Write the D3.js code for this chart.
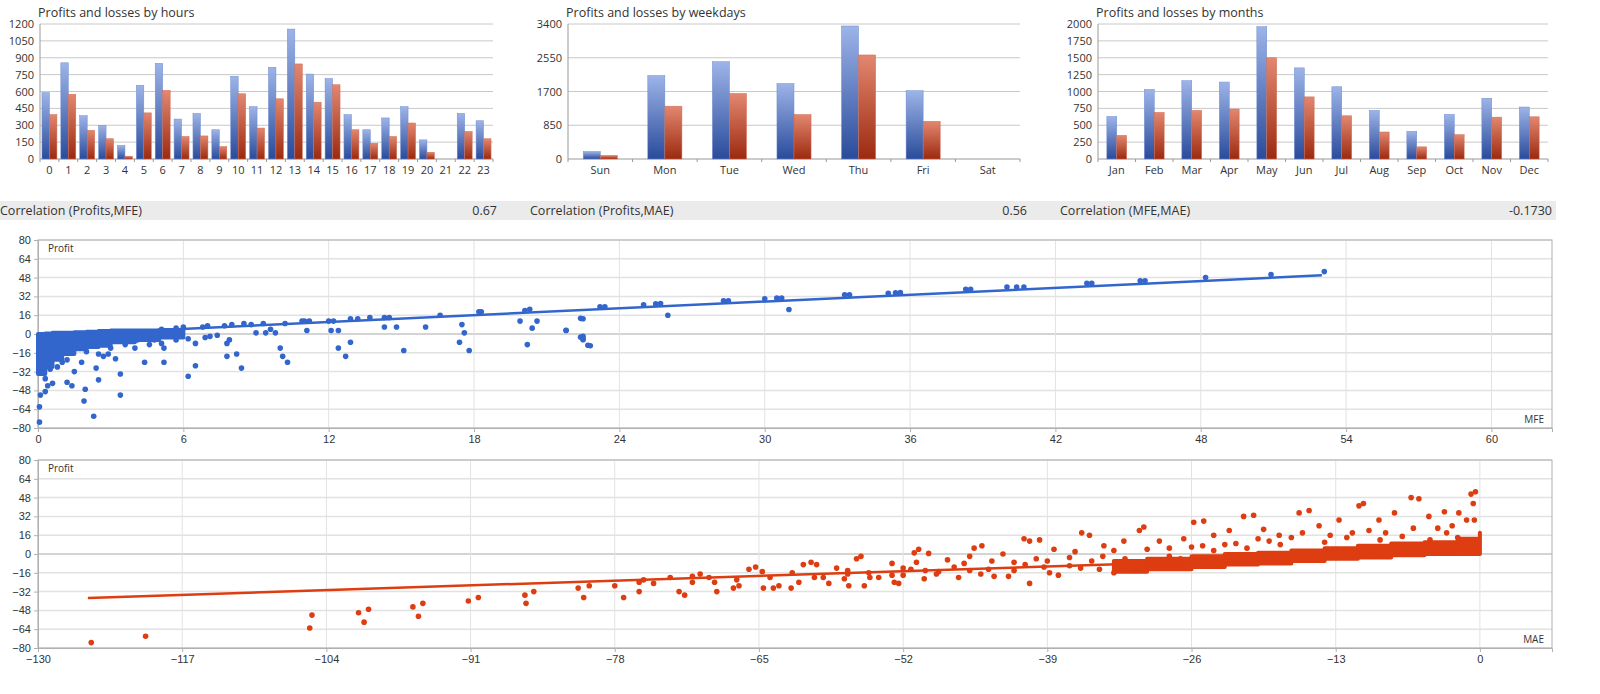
<!DOCTYPE html>
<html><head><meta charset="utf-8">
<script src="https://cdn.jsdelivr.net/npm/d3@7"></script>
<style>
html,body{margin:0;overflow:hidden;background:#fff;font-family:"Open Sans","DejaVu Sans",sans-serif;}
svg{display:block;}
text{fill:#333;}
.tick text{font-size:11px;fill:#333;}
</style></head><body>
<svg id="chart" width="1600" height="694"></svg>
<script>
// bar charts
var hours = d3.range(24).map(String);
var hourProfit = [590,855,385,300,120,655,850,355,405,260,735,465,815,1155,755,715,395,260,365,465,170,0,405,340];
var hourLoss   = [395,575,255,180,25,410,610,200,205,110,580,275,535,845,505,660,260,140,200,320,60,0,245,180];
var days = ["Sun","Mon","Tue","Wed","Thu","Fri","Sat"];
var dayProfit = [190,2100,2450,1900,3350,1720,0];
var dayLoss   = [90,1330,1650,1120,2620,950,0];
var months = ["Jan","Feb","Mar","Apr","May","Jun","Jul","Aug","Sep","Oct","Nov","Dec"];
var monthProfit = [630,1030,1160,1140,1960,1350,1070,720,410,660,900,770];
var monthLoss   = [350,690,720,740,1500,920,640,400,180,360,620,625];

var correlations = [["Correlation (Profits,MFE)","0.67"],["Correlation (Profits,MAE)","0.56"],["Correlation (MFE,MAE)","-0.1730"]];

// scatter MFE vs profit
var mfePoints = [[0.06,-75],[0.06,-62],[0.1,-52],[0.3,-49],[0.6,-42],[1.2,-41],[1.4,-44],[1.9,-57],[1.95,-47],[2.3,-70],[2.5,-39],[3.4,-52],[3.4,-34],[2.4,-29],[1.5,-32],[1.8,-24],[2.5,-17],[2.7,-19],[2.9,-17],[3.2,-21],[4.4,-24],[5.2,-24],[6.2,-36],[6.5,-27],[7.8,-19],[8.4,-29],[8.2,-17],[10,-12],[10.1,-19],[10.3,-24],[12.4,-12],[12.7,-19],[12.9,-7],[15.1,-14],[14.3,6],[14.8,6],[16,6],[17.4,-7],[17.8,-14],[17.5,8],[17.6,1],[20.2,-9],[20.4,5],[19.9,11],[20.6,11],[21.8,3],[22.5,13],[22.5,-2],[22.5,-4],[22.8,-10],[16.6,16],[18.2,19],[18.3,19],[20.1,20],[20.3,21],[14.3,14],[14.5,14],[13.7,14],[12.9,13],[13.2,13],[12,11],[12.2,11],[10.9,11],[11.2,11],[10.2,9],[9.3,9],[8.5,9],[8.8,8],[7.7,7],[8,8],[6.8,6],[7,7],[5.7,5],[6,6],[5.1,4],[9,1],[9.4,1],[9.8,1],[11,11],[11.1,3],[12.1,3],[12.4,3],[9.6,4],[7.9,-5],[7.4,-1],[6.9,-3],[6.2,-4],[5.7,-5],[5.1,-8],[4.6,-9],[4,-12],[4.1,-5],[3.6,-9],[3.5,-5],[4.8,-5],[5.2,-12],[7.8,-8],[0.3,-38],[0.2,-33],[0.5,-30],[0.8,-28],[1,-24],[1.2,-22],[0.4,-44],[1.1,-15],[2,-15],[3,-12],[6.5,-8],[7.1,-2],[21.8,3.2],[22.4,13.3],[22.4,-2.7],[22.5,-4.8],[22.7,-9.6],[23.2,23.2],[23.4,23.2],[25,24.8],[25.7,25.9],[25.5,25.6],[26,16],[28.3,28.3],[28.5,28.3],[30,29.9],[30.7,30.7],[30.5,30.5],[31,20.8],[33.3,33.3],[33.5,33.3],[35.1,34.7],[35.6,35.2],[35.4,35],[38.3,38.1],[38.5,38.1],[40,40],[40.7,40],[40.4,40],[43.3,43.2],[43.5,43.2],[45.5,45.3],[45.7,45.3],[48.2,48],[50.9,50.7],[53.1,53.1]];
// dense cluster near zero: [mfe, lowest profit, highest profit]
var mfeBand = [[0,-34,0],[0.3,-28,0.5],[0.6,-22,1],[1,-17,1],[1.5,-13,1.5],[2,-11,2],[2.5,-10,2.5],[3,-7,3],[4,-5,3],[5,-3,3.5],[6,-2,4]];
var mfeTrend = [[0,-1.4],[53,49.9]];

// scatter MAE vs profit
var maePoints = [[-125.2,-75.4],[-120.3,-70],[-105.5,-63],[-105.3,-52],[-101.1,-50],[-100.6,-58],[-100.2,-47],[-96.2,-45],[-95.7,-53],[-95.3,-42],[-91.2,-40],[-90.3,-37],[-86.1,-35],[-86,-42],[-85.3,-32],[-81.3,-29],[-80.8,-37],[-80.3,-27],[-77.2,-37],[-75.8,-32],[-75.8,-24],[-75.4,-22],[-74.5,-25],[-72.2,-32],[-71.7,-35],[-71,-19],[-70.3,-17],[-69.5,-20],[-68.8,-32],[-67.3,-29],[-66.8,-27],[-65.9,-13],[-65.3,-11],[-64.7,-15],[-64.6,-29],[-63.7,-29],[-63.2,-27],[-62.1,-29],[-61.4,-24],[-61,-9],[-60.3,-7],[-59.8,-9],[-59.2,-20],[-58.7,-25],[-57.3,-21],[-56.9,-27],[-56.2,-4],[-55.8,-2],[-55.5,-27],[-55.1,-16],[-54.2,-20],[-52.8,-24],[-52.4,-25],[-52,-12],[-51.3,-13],[-51,1],[-50.6,4],[-49.7,0.5],[-50.8,-7],[-50.1,-21],[-48.8,-15],[-47.4,-11],[-46.5,-8],[-46,-2],[-45.6,5],[-44.9,7],[-44.3,-13],[-43.8,-19],[-42.5,-19],[-42,-7],[-41.1,13],[-40.6,11],[-39.7,12],[-40.6,-25],[-39.3,-11],[-38.8,-16],[-38.4,4],[-37,-3],[-35.9,18],[-35.2,16],[-34.3,-13],[-33.9,7],[-33,3],[-32.1,11],[-30.7,20],[-30.3,23],[-28.9,11],[-28,5],[-26.7,13],[-25.8,27],[-24.9,28],[-24,16],[-22.6,20],[-21.3,32],[-20.4,33],[-19.5,21],[-18.1,16],[-16.3,35],[-15.4,37],[-14.5,24],[-12.7,29],[-10.9,41],[-10.5,43],[-9.1,29],[-7.7,35],[-6.2,48],[-5.5,47],[-4.6,32],[-3.2,36],[-1.9,35],[-0.8,51],[-0.4,53],[-0.6,43],[-0.5,29],[-1.2,29],[-2.5,24],[-3.8,22],[-6,22],[-8.5,18],[-11.5,18],[-13.5,16],[-17,14],[-19,11],[-22,9],[-25,7],[-27,-4],[-29,-10],[-31,-14],[-33,-16],[-36,-12],[-38,-18],[-42,-14],[-45,-17],[-47,-20],[-49,-17],[-53,-18],[-57,-14],[-60,-20],[-62,-16],[-64,-20],[-67,-22],[-69,-24],[-71,-24],[-73,-20],[-78,-27],[-34,-2],[-36.5,2],[-40,-4],[-43,0],[-48,-5],[-53,-8],[-58,-12],[-2,14],[-3,18],[-4.5,12],[-7,15],[-9,12],[-10,20],[-12,14],[-14,10],[-16,18],[-18,8],[-20,13],[-21,5],[-23,8],[-24,3],[-26,6],[-28,-2],[-30,4],[-32,-4],[-35,-6],[-37,-10],[-39,-6],[-41,-9],[-44,-6],[-46,-14],[-50,-14],[-52,-18],[-55,-20],[-57,-17]];
var maeBand = [[-33,-15,-6],[-30,-13,-4],[-26,-11,-2],[-23,-9,0],[-20,-8,1],[-17,-6,3],[-14,-4,5],[-11,-3,7],[-8,-1,9],[-5,0,10],[-2,0,13],[0,0,18]];
var maeTrend = [[-125.5,-37.4],[0,1.4]];

var svg = d3.select("#chart");
var defs = svg.append("defs");
function grad(id, top, bottom){
	var g = defs.append("linearGradient").attr("id", id).attr("x1",0).attr("y1",0).attr("x2",0).attr("y2",1);
	g.append("stop").attr("offset","0%").attr("stop-color", top);
	g.append("stop").attr("offset","100%").attr("stop-color", bottom);
}
grad("gBlue", "#9db4e8", "#2a4b9b");
grad("gRed", "#e38770", "#9b2a0f");

function barChart(title, cats, profit, loss, yMax, yStep, x0, x1, barFrac){
	var top = 24, bottom = 159;
	var x = d3.scaleBand().domain(cats).range([x0, x1]).paddingInner(0.12).paddingOuter(0.06);
	var y = d3.scaleLinear().domain([0, yMax]).range([bottom, top]);
	var g = svg.append("g");
	g.append("text").attr("x", x0 - 2).attr("y", 17).attr("font-size", 12.5).text(title);
	var ticks = d3.range(0, yMax + 1, yStep);
	g.selectAll(".grid").data(ticks).enter().append("line")
		.attr("x1", x0).attr("x2", x1).attr("y1", y).attr("y2", y)
		.attr("stroke", function(d){return d == 0 ? "#999" : "#c8c8c8";});
	g.selectAll(".yl").data(ticks).enter().append("text")
		.attr("x", x0 - 6).attr("y", function(d){return y(d) + 4;})
		.attr("text-anchor", "end").attr("font-size", 11).text(function(d){return d;});
	g.append("line").attr("x1", x0).attr("x2", x0).attr("y1", top).attr("y2", bottom + 3).attr("stroke", "#999");
	var bw = x.bandwidth() * barFrac;
	var off = (x.bandwidth() - 2 * bw) / 2;
	cats.forEach(function(c, i){
		g.append("line").attr("x1", x(c) + x.bandwidth() + x.step()*0.06).attr("x2", x(c) + x.bandwidth() + x.step()*0.06)
			.attr("y1", bottom).attr("y2", bottom + 3).attr("stroke", "#999");
		if(profit[i] > 0) g.append("rect").attr("x", x(c) + off).attr("width", bw)
			.attr("y", y(profit[i])).attr("height", bottom - y(profit[i]))
			.attr("fill", "url(#gBlue)").attr("stroke", "#6d8cd0").attr("stroke-width", 0.5);
		if(loss[i] > 0) g.append("rect").attr("x", x(c) + off + bw).attr("width", bw)
			.attr("y", y(loss[i])).attr("height", bottom - y(loss[i]))
			.attr("fill", "url(#gRed)").attr("stroke", "#d06a50").attr("stroke-width", 0.5);
		g.append("text").attr("x", x(c) + x.bandwidth()/2).attr("y", 174)
			.attr("text-anchor", "middle").attr("font-size", 11).text(c);
	});
}
barChart("Profits and losses by hours", hours, hourProfit, hourLoss, 1200, 150, 40, 493, 0.45);
barChart("Profits and losses by weekdays", days, dayProfit, dayLoss, 3400, 850, 568, 1020, 0.3);
barChart("Profits and losses by months", months, monthProfit, monthLoss, 2000, 250, 1098, 1548, 0.3);

// correlation strip
svg.append("rect").attr("x", 0).attr("y", 201).attr("width", 1556).attr("height", 19).attr("fill", "#ebebeb");
correlations.forEach(function(c, i){
	var left = [0, 530, 1060][i], right = [497, 1027, 1552][i];
	svg.append("text").attr("x", left).attr("y", 215).attr("font-size", 12.5).text(c[0]);
	svg.append("text").attr("x", right).attr("y", 215).attr("text-anchor", "end").attr("font-size", 12.5).text(c[1]);
});

function scatter(top, xDomain, xTicks, xName, pts, band, trend, color){
	var bottom = top + 188, left = 38, right = 1552;
	var x = d3.scaleLinear().domain(xDomain).range([left, right]);
	var y = d3.scaleLinear().domain([-80, 80]).range([bottom, top]);
	var g = svg.append("g");
	var yt = d3.range(-80, 81, 16);
	g.selectAll(".hg").data(yt).enter().append("line")
		.attr("x1", left).attr("x2", right).attr("y1", y).attr("y2", y)
		.attr("stroke", function(d){return d == 0 ? "#aaa" : "#e2e2e2";}).attr("stroke-width", function(d){return d == 0 ? 1.2 : 1.5;});
	g.selectAll(".vg").data(xTicks).enter().append("line")
		.attr("x1", x).attr("x2", x).attr("y1", top).attr("y2", bottom).attr("stroke", "#e2e2e2");
	g.append("rect").attr("x", left).attr("y", top).attr("width", right - left).attr("height", bottom - top)
		.attr("fill", "none").attr("stroke", "#b0b0b0");
	g.append("g").attr("transform", "translate(" + left + ",0)")
		.call(d3.axisLeft(y).tickValues(yt).tickSize(4)).call(function(a){a.select(".domain").attr("stroke", "#b0b0b0"); a.selectAll("line").attr("stroke", "#b0b0b0");});
	g.append("g").attr("transform", "translate(0," + bottom + ")")
		.call(d3.axisBottom(x).tickValues(xTicks).tickSize(4)).call(function(a){a.select(".domain").attr("stroke", "#b0b0b0"); a.selectAll("line").attr("stroke", "#b0b0b0");});
	g.append("text").attr("x", left + 10).attr("y", top + 12).attr("font-size", 10).text("Profit");
	g.append("text").attr("x", right - 8).attr("y", bottom - 5).attr("text-anchor", "end").attr("font-size", 10).text(xName);
	g.append("path").datum(band)
		.attr("d", d3.area().x(function(d){return x(d[0]);}).y0(function(d){return y(d[1]);}).y1(function(d){return y(d[2]);}).curve(d3.curveStepAfter))
		.attr("fill", color).attr("stroke", color).attr("stroke-width", 4).attr("stroke-linejoin", "round");
	g.append("path").datum(trend)
		.attr("d", d3.line().x(function(d){return x(d[0]);}).y(function(d){return y(d[1]);}))
		.attr("stroke", color).attr("stroke-width", 2.5).attr("fill", "none");
	g.selectAll(".pt").data(pts).enter().append("circle")
		.attr("cx", function(d){return x(d[0]);}).attr("cy", function(d){return y(d[1]);})
		.attr("r", 2.8).attr("fill", color);
}
scatter(240, [0, 62.5], d3.range(0, 61, 6), "MFE", mfePoints, mfeBand, mfeTrend, "#3366cc");
scatter(460, [-130, 6.5], d3.range(-130, 1, 13), "MAE", maePoints, maeBand, maeTrend, "#dd3d11");
</script></body></html>
